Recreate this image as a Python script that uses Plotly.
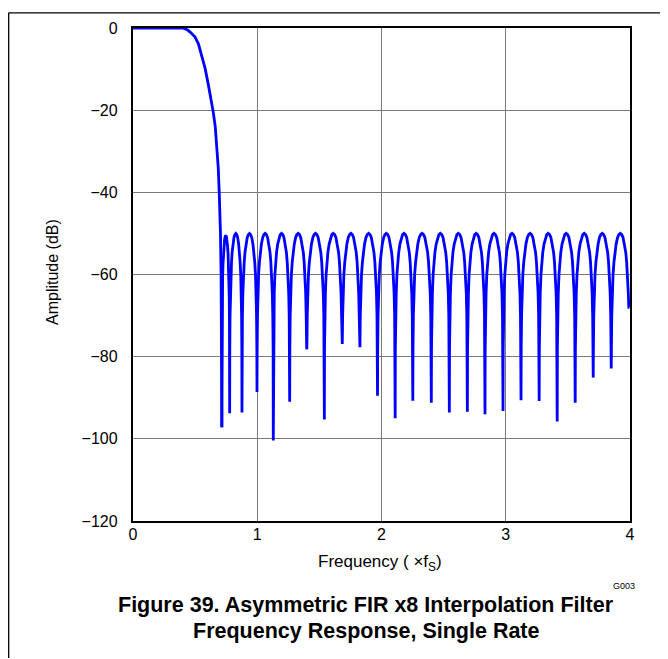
import plotly.graph_objects as go

# ---------------- data ----------------
# pass band / transition band (frequency in x fS, amplitude in dB)
pass_freq = [0.0, 0.20, 0.40, 0.419, 0.44, 0.46, 0.48, 0.50, 0.527, 0.554, 0.581,
             0.607, 0.630, 0.646, 0.662, 0.675, 0.686, 0.694, 0.700, 0.704, 0.709, 0.712, 0.715]
pass_db = [0.0, 0.0, 0.0, -0.2, -0.5, -1.0, -1.5, -2.2, -3.9, -6.7, -9.9,
           -13.9, -17.6, -20.5, -24.0, -28.5, -34.0, -40.0, -45.5, -50.0, -60.0, -72.0, -97.2]

# stop band nulls (frequency, depth)
null_freq = [0.715, 0.778, 0.877, 0.998, 1.129, 1.261, 1.398, 1.540, 1.683, 1.825,
             1.968, 2.110, 2.252, 2.401, 2.546, 2.691, 2.833, 2.978, 3.123, 3.269,
             3.414, 3.559, 3.704, 3.849, 3.995]
null_db = [-97.2, -93.8, -93.6, -88.6, -100.4, -91.0, -78.2, -95.3, -76.9, -77.7,
           -89.5, -95.0, -90.7, -91.2, -93.6, -93.4, -94.0, -93.2, -90.6, -90.8,
           -95.8, -91.2, -85.1, -82.9, -68.0]
# side-lobe peak level of each lobe between consecutive nulls
peak_db = [-50.5] + [-50.0] * 23

# measured shape of one side lobe: fraction across lobe, dB below lobe peak
lobe_frac = [0.01, 0.03, 0.06, 0.10, 0.15, 0.20, 0.27, 0.35, 0.42, 0.50,
             0.58, 0.65, 0.73, 0.80, 0.85, 0.90, 0.94, 0.97, 0.99]
lobe_rel_db = [-28.0, -20.0, -14.5, -10.0, -7.0, -4.6, -2.6, -1.0, -0.3, 0.0,
               -0.3, -1.0, -2.6, -4.6, -7.0, -10.0, -14.5, -20.0, -28.0]

x_ticks = [0, 1, 2, 3, 4]
x_ticklabels = ["0", "1", "2", "3", "4"]
y_ticks = [0, -20, -40, -60, -80, -100, -120]
y_ticklabels = ["0", "\u221220", "\u221240", "\u221260", "\u221280", "\u2212100", "\u2212120"]

# ---------------- assemble stop-band curve ----------------
sx, sy = [], []
for i in range(len(null_freq) - 1):
    n0, n1 = null_freq[i], null_freq[i + 1]
    d0, d1 = null_db[i], null_db[i + 1]
    sx.append(n0)
    sy.append(d0)
    for fr, rel in zip(lobe_frac, lobe_rel_db):
        lim = d0 if fr < 0.5 else d1
        sx.append(n0 + fr * (n1 - n0))
        sy.append(max(peak_db[i] + rel, lim))
sx.append(null_freq[-1])
sy.append(null_db[-1])

FONT = "Liberation Sans, Arial, Helvetica, sans-serif"
BLUE = "#0000FF"

fig = go.Figure()
fig.add_trace(go.Scatter(x=pass_freq, y=pass_db, mode="lines",
                         line=dict(color=BLUE, width=2.8),
                         hoverinfo="skip", showlegend=False))
fig.add_trace(go.Scatter(x=sx, y=sy, mode="lines",
                         line=dict(color=BLUE, width=2.8),
                         hoverinfo="skip", showlegend=False))

OFF = 8  # page body margin
W, H = 668, 659
L, T = 125, 16
pw, ph = 497, 497
R, B = W - L - pw, H - T - ph


def px(x):  # page pixel -> paper x
    return (x - OFF - L) / pw


def py(y):  # page pixel -> paper y
    return (T + ph - (y - OFF)) / ph


fig.update_layout(
    width=W, height=H,
    margin=dict(l=L, r=R, t=T, b=B),
    paper_bgcolor="white", plot_bgcolor="white",
    font=dict(family=FONT, size=16, color="black"),
    showlegend=False,
    xaxis=dict(range=[0, 4], tickvals=x_ticks, ticktext=x_ticklabels,
               showgrid=True, gridcolor="#7a7a7a", gridwidth=1,
               showline=True, linecolor="black", linewidth=2.4, mirror=True,
               ticks="", ticklabelstandoff=-2, zeroline=False,
               tickfont=dict(size=16)),
    yaxis=dict(range=[-120, 0], tickvals=y_ticks, ticktext=y_ticklabels,
               showgrid=True, gridcolor="#7a7a7a", gridwidth=1,
               showline=True, linecolor="black", linewidth=2.4, mirror=True,
               ticks="", ticklabelstandoff=10, zeroline=False,
               tickfont=dict(size=16)),
)

annotations = [
    dict(text="Amplitude (dB)", x=px(52), y=py(270), textangle=-90, font=dict(size=16)),
    dict(text="Frequency ( \u00d7f<sub>S</sub>)", x=px(380), y=py(563), font=dict(size=17)),
    dict(text="G003", x=px(637), y=py(587), xanchor="right", font=dict(size=9)),
    dict(text="<b>Figure 39. Asymmetric FIR x8 Interpolation Filter</b>",
         x=px(366), y=py(606), font=dict(size=21.5)),
    dict(text="<b>Frequency Response, Single Rate</b>",
         x=px(366), y=py(632), font=dict(size=21.5)),
]
for a in annotations:
    a.setdefault("xanchor", "center")
    a.update(xref="paper", yref="paper", yanchor="middle", showarrow=False)
    fig.add_annotation(**a)

# outer page frame (top and left rules), drawn at the figure's own edge
fig.add_shape(type="line", xref="paper", yref="paper",
              x0=px(OFF + 0.7), x1=px(W + OFF), y0=py(OFF + 0.7), y1=py(OFF + 0.7),
              line=dict(color="black", width=1.3))
fig.add_shape(type="line", xref="paper", yref="paper",
              x0=px(OFF + 0.7), x1=px(OFF + 0.7), y0=py(OFF + 0.7), y1=py(H),
              line=dict(color="black", width=1.3))

fig.write_html("out.html")
